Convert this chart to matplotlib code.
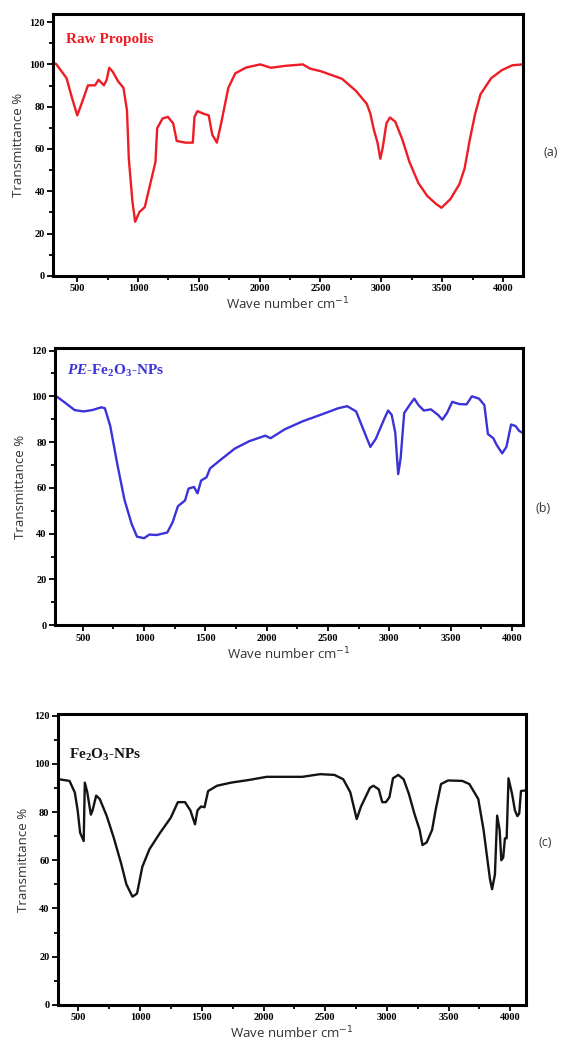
import matplotlib
matplotlib.use('Agg')
import matplotlib.pyplot as plt
from matplotlib.ticker import MultipleLocator

# FTIR spectra
raw_wn = [303, 325, 412, 456, 500, 544, 588, 646, 675, 719, 742, 763, 792, 836, 880, 909, 924,
          953, 976, 1011, 1055, 1099, 1143, 1157, 1201, 1245, 1289, 1318, 1391, 1450, 1464, 1488,
          1537, 1581, 1610, 1648, 1683, 1742, 1800, 1888, 2005, 2093, 2209, 2355, 2414, 2501,
          2677, 2793, 2881, 2910, 2939, 2969, 2992, 3012, 3042, 3071, 3115, 3173, 3232, 3305,
          3378, 3451, 3495, 3568, 3641, 3685, 3728, 3772, 3816, 3904, 3992, 4079, 4164]
raw_t = [100.5, 100.3, 93.5, 84.3, 75.9, 82.8, 90.1, 90.1, 92.7, 90.1, 92.7, 98.4, 96.5, 92.0,
         88.9, 78.2, 55.4, 35.5, 25.6, 30.2, 32.5, 43.2, 53.8, 69.8, 74.4, 75.2, 72.1, 63.8,
         63.0, 63.0, 75.2, 77.9, 76.7, 75.9, 66.8, 63.0, 72.1, 88.9, 95.8, 98.5, 100.0, 98.4,
         99.3, 100.0, 98.0, 96.8, 93.2, 87.4, 81.3, 76.7, 69.1, 63.0, 55.4, 60.7, 72.1, 74.9,
         72.9, 64.5, 53.8, 43.9, 37.8, 34.0, 32.2, 36.3, 43.2, 50.8, 64.5, 76.7, 85.9, 93.5,
         97.3, 99.6, 100.0]

pe_wn = [273, 282, 346, 433, 506, 578, 651, 680, 724, 782, 840, 898, 942, 1000, 1043, 1102,
         1189, 1233, 1276, 1334, 1363, 1407, 1436, 1465, 1509, 1538, 1625, 1741, 1858, 1988,
         2032, 2148, 2294, 2439, 2584, 2657, 2730, 2788, 2846, 2890, 2962, 2991, 3020, 3049,
         3073, 3093, 3122, 3166, 3204, 3238, 3282, 3340, 3398, 3433, 3471, 3514, 3573, 3631,
         3674, 3732, 3776, 3805, 3849, 3878, 3921, 3956, 3994, 4031, 4060, 4090]
pe_t = [100.5, 100.1, 97.6, 94.0, 93.4, 94.0, 95.2, 94.8, 87.0, 70.2, 54.8, 44.3, 38.7, 38.0,
        39.6, 39.4, 40.5, 45.0, 52.0, 54.5, 59.7, 60.4, 57.6, 63.2, 64.6, 68.5, 72.3, 77.2,
        80.4, 82.8, 81.7, 85.6, 89.1, 91.9, 94.8, 95.7, 93.4, 85.6, 77.9, 81.4, 90.5, 93.8,
        91.9, 84.2, 66.0, 73.0, 92.7, 96.2, 99.0, 96.2, 93.8, 94.3, 91.9, 89.8, 92.7, 97.6,
        96.6, 96.5, 100.0, 99.0, 96.2, 83.5, 81.7, 78.6, 75.1, 77.9, 87.7, 87.0, 84.9, 84.0]

fe_wn = [333, 342, 428, 471, 494, 514, 543, 552, 572, 601, 615, 644, 673, 730, 788, 846, 889,
         938, 975, 1018, 1076, 1162, 1249, 1306, 1364, 1407, 1445, 1465, 1494, 1522, 1551,
         1623, 1738, 1882, 2026, 2170, 2314, 2458, 2574, 2646, 2703, 2755, 2790, 2862, 2890,
         2934, 2962, 2991, 3020, 3049, 3092, 3135, 3178, 3222, 3265, 3288, 3322, 3366, 3394,
         3438, 3496, 3611, 3668, 3740, 3783, 3812, 3835, 3852, 3875, 3893, 3913, 3927, 3942,
         3956, 3970, 3985, 4014, 4037, 4057, 4072, 4086, 4124]
fe_t = [93.6, 93.6, 92.9, 88.1, 80.7, 71.4, 68.0, 92.2, 88.2, 78.9, 80.7, 86.8, 85.4, 78.3,
        69.1, 58.7, 50.0, 44.9, 46.2, 57.3, 64.6, 71.4, 77.7, 84.1, 84.1, 80.7, 74.9, 80.7,
        82.3, 82.0, 88.7, 90.9, 92.2, 93.3, 94.6, 94.6, 94.6, 95.7, 95.4, 93.6, 88.2, 77.1,
        82.3, 90.0, 90.9, 89.4, 84.1, 84.1, 86.1, 94.0, 95.4, 93.6, 87.5, 79.4, 72.6, 66.3,
        67.4, 72.6, 80.7, 91.6, 93.1, 92.9, 91.6, 85.4, 72.6, 61.1, 52.1, 48.0, 54.1, 78.5,
        72.6, 60.0, 61.1, 69.1, 69.1, 94.0, 87.5, 80.7, 78.3, 79.4, 88.7, 89.0]

plt.rcParams['mathtext.fontset'] = 'custom'
plt.rcParams['mathtext.rm'] = 'Liberation Serif:bold'
plt.rcParams['mathtext.it'] = 'Liberation Serif:italic:bold'
plt.rcParams['mathtext.bf'] = 'Liberation Serif:bold'

fig = plt.figure(figsize=(5.61, 10.49), dpi=100)

panels = [
    # x, y, color, name, axes rect, xlim, ylim, name pos, letter, letter pos
    (raw_wn, raw_t, '#ee1c24', 'Raw Propolis', [0.095, 0.737, 0.837, 0.250],
     (303, 4164), (0, 124), (0.027, 0.903), '(a)', (551, 153)),
    (pe_wn, pe_t, '#3b33d8', r'$\mathit{PE}$-Fe$_2$O$_3$-NPs', [0.098, 0.404, 0.834, 0.264],
     (273, 4090), (0, 121), (0.025, 0.918), '(b)', (543, 508)),
    (fe_wn, fe_t, '#141414', r'Fe$_2$O$_3$-NPs', [0.103, 0.042, 0.834, 0.277],
     (333, 4124), (0, 120.5), (0.024, 0.859), '(c)', (545, 843)),
]

for x, y, col, name, rect, xl, yl, npos, letter, lpos in panels:
    ax = fig.add_axes(rect)
    ax.plot(x, y, color=col, lw=1.7, solid_joinstyle='round')
    ax.set_xlim(*xl)
    ax.set_ylim(*yl)
    ax.xaxis.set_major_locator(MultipleLocator(500))
    ax.xaxis.set_minor_locator(MultipleLocator(250))
    ax.yaxis.set_major_locator(MultipleLocator(20))
    ax.yaxis.set_minor_locator(MultipleLocator(10))
    ax.tick_params(which='major', direction='out', length=4, width=1.3, pad=2,
                   top=False, right=False)
    ax.tick_params(which='minor', direction='out', length=3, width=1.3,
                   top=False, right=False)
    for lab in ax.get_xticklabels() + ax.get_yticklabels():
        lab.set_fontfamily('Liberation Serif')
        lab.set_fontweight('bold')
        lab.set_fontsize(7.5)
    for sp in ax.spines.values():
        sp.set_linewidth(2.2)
    ax.set_ylabel('Transmittance %', fontsize=9.5, family='Open Sans', color='#333333',
                  labelpad=3)
    ax.set_xlabel('Wave number cm$^{-1}$', fontsize=9.5, family='Open Sans', color='#333333',
                  labelpad=2, math_fontfamily='dejavusans')
    ax.text(npos[0], npos[1], name, transform=ax.transAxes, color=col, fontsize=11,
            family='Liberation Serif', fontweight='bold', ha='left', va='center')
    fig.text(lpos[0] / 561, 1 - lpos[1] / 1049, letter, fontsize=9, family='Open Sans',
             color='#333333', ha='center', va='center')

plt.savefig('out.png', dpi=100)
